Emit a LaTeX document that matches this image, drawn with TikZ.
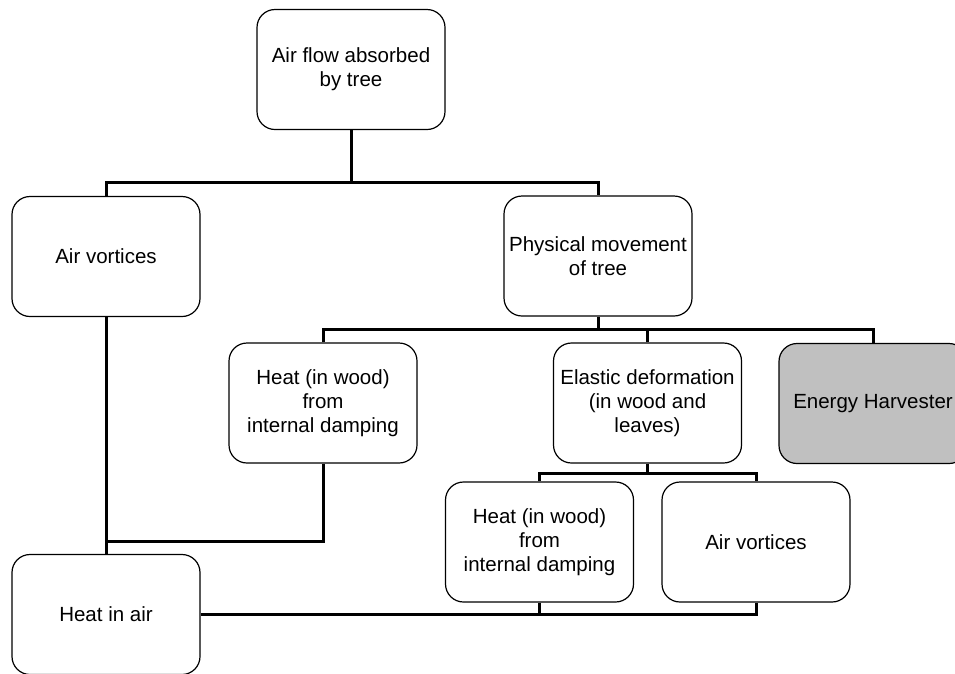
\documentclass[tikz,border=0pt]{standalone}
\usepackage{fontspec}
\setmainfont{Liberation Sans}
\definecolor{harvfill}{HTML}{C0C0C0}
\begin{document}
\begin{tikzpicture}[x=1pt,y=-1pt,
  box/.style={draw=black, line width=1.2pt, rounded corners=18pt, fill=white,
    minimum width=188pt, minimum height=120pt, align=center, inner sep=0pt,
    font=\fontsize{20.5}{24}\selectfont},
  conn/.style={draw=black, line width=3pt}]
\useasboundingbox (0,0) rectangle (955,673);
\node[box] (top) at (351,69.5) {Air flow absorbed\\by tree};
\node[box] (av1) at (106,256.5) {Air vortices};
\node[box] (phys) at (598,256) {Physical movement\\of tree};
\node[box] (heat1) at (323,403) {Heat (in wood)\\from\\internal damping};
\node[box] (elastic) at (647.5,403) {Elastic deformation\\(in wood and\\leaves)};
\node[box, fill=harvfill] (energy) at (873,403.5) {Energy Harvester};
\node[box] (heat2) at (539.5,542) {Heat (in wood)\\from\\internal damping};
\node[box] (av2) at (756,542) {Air vortices};
\node[box] (heatair) at (106,614.5) {Heat in air};
% connectors
\draw[conn] (top.south) -- (top.south |- 0,182) coordinate (j1);
\draw[conn] (av1.north) |- (j1) -| (phys.north);
\draw[conn] (phys.south) -- (phys.south |- 0,329) coordinate (j2);
\draw[conn] (heat1.north) |- (j2) -| (energy.north);
\draw[conn] (elastic.north) -- (elastic.north |- j2);
\draw[conn] (av1.south) -- (heatair.north);
\draw[conn] (heat1.south) |- (heatair.north |- 0,541);
\draw[conn] (elastic.south) -- (elastic.south |- 0,473) coordinate (j3);
\draw[conn] (heat2.north) |- (j3) -| (av2.north);
\draw[conn] (heatair.east) -| (av2.south);
\draw[conn] (heat2.south) -- (heat2.south |- heatair.east);
\end{tikzpicture}
\end{document}
